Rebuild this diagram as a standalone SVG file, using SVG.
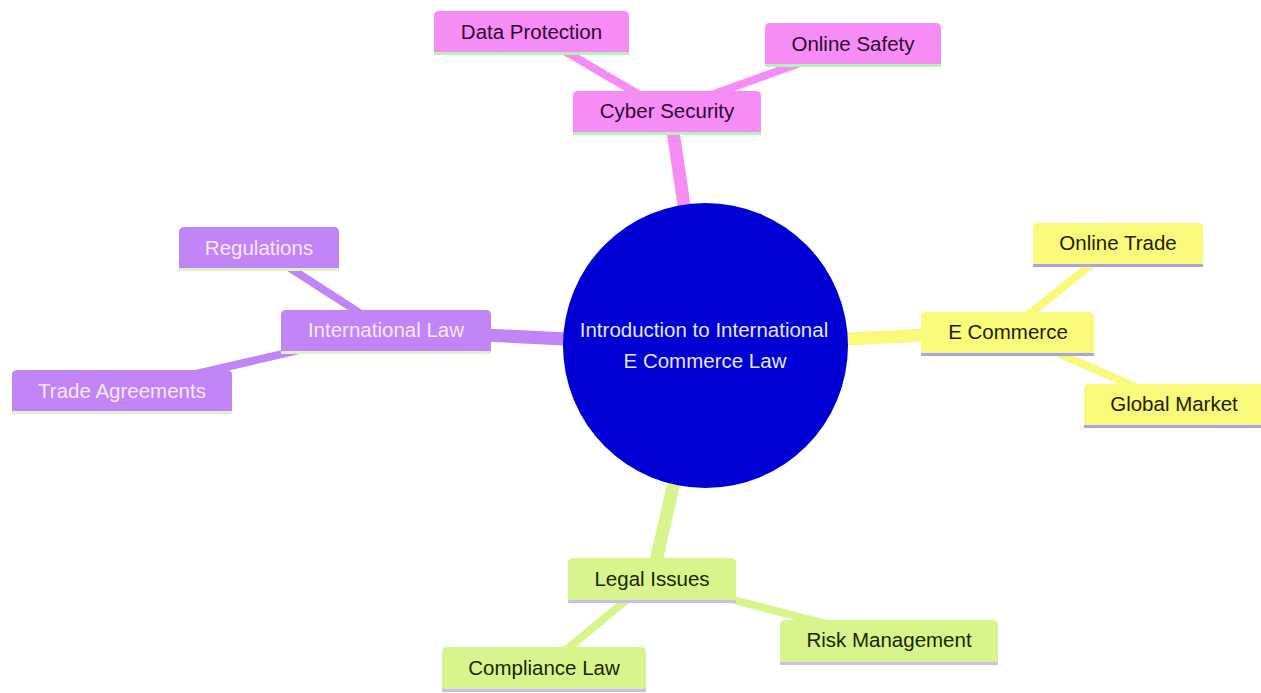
<svg xmlns="http://www.w3.org/2000/svg" width="1261" height="693" viewBox="0 0 1261 693">
<style>
  text { font-family: "Liberation Sans", Arial, sans-serif; font-size: 20.5px; text-anchor: middle; }
  .e1 { stroke-width: 13; stroke-linecap: butt; fill: none; }
  .e2 { stroke-width: 8; stroke-linecap: butt; fill: none; }
  .pink { fill: #f68df6; }
  .pink-e { stroke: #f68df6; }
  .pink-l { stroke: #b8f0b8; stroke-width: 3; }
  .pink-t { fill: #2e0a2e; }
  .purp { fill: #c185f7; }
  .purp-e { stroke: #c185f7; }
  .purp-l { stroke: #dcf3c8; stroke-width: 3; }
  .purp-t { fill: #f8e8ff; }
  .yel { fill: #f9f97b; }
  .yel-e { stroke: #f9f97b; }
  .yel-l { stroke: #a6a6e6; stroke-width: 3; }
  .yel-t { fill: #1e1e00; }
  .grn { fill: #d7f58c; }
  .grn-e { stroke: #d7f58c; }
  .grn-l { stroke: #cbbdee; stroke-width: 3; }
  .grn-t { fill: #1a2600; }
</style>
<rect x="0" y="0" width="1261" height="693" fill="#ffffff"/>
<g id="connectors">
  <line class="e1 pink-e" x1="705" y1="346" x2="670" y2="111"/>
  <line class="e2 pink-e" x1="667" y1="111" x2="532" y2="32"/>
  <line class="e2 pink-e" x1="667" y1="111" x2="853" y2="44"/>
  <line class="e1 purp-e" x1="705" y1="346" x2="386" y2="330"/>
  <line class="e2 purp-e" x1="386" y1="330" x2="259" y2="248"/>
  <line class="e2 purp-e" x1="386" y1="330" x2="122" y2="391"/>
  <line class="e1 yel-e" x1="705" y1="346" x2="1008" y2="331"/>
  <line class="e2 yel-e" x1="1008" y1="331" x2="1118" y2="243"/>
  <line class="e2 yel-e" x1="1008" y1="331" x2="1174" y2="404"/>
  <line class="e1 grn-e" x1="705" y1="346" x2="652" y2="579"/>
  <line class="e2 grn-e" x1="652" y1="579" x2="889" y2="640"/>
  <line class="e2 grn-e" x1="652" y1="579" x2="544" y2="668"/>
</g>
<g id="root">
  <circle cx="705.5" cy="345.5" r="142.5" fill="#0000d4"/>
  <text x="704" y="337" fill="#e6e6ff">Introduction to International</text>
  <text x="705" y="368" fill="#e6e6ff">E Commerce Law</text>
</g>
<g id="cyber-security">
  <path class="pink" d="M573,132 v-36 q0,-5 5,-5 h178 q5,0 5,5 v36 Z"/>
  <line class="pink-l" x1="573" y1="133.5" x2="761" y2="133.5"/>
  <text class="pink-t" x="667" y="118">Cyber Security</text>
</g>
<g id="data-protection">
  <path class="pink" d="M434,52 v-36 q0,-5 5,-5 h185 q5,0 5,5 v36 Z"/>
  <line class="pink-l" x1="434" y1="53.5" x2="629" y2="53.5"/>
  <text class="pink-t" x="531.5" y="39">Data Protection</text>
</g>
<g id="online-safety">
  <path class="pink" d="M765,64 v-36 q0,-5 5,-5 h166 q5,0 5,5 v36 Z"/>
  <line class="pink-l" x1="765" y1="65.5" x2="941" y2="65.5"/>
  <text class="pink-t" x="853" y="51">Online Safety</text>
</g>
<g id="international-law">
  <path class="purp" d="M281,351 v-36 q0,-5 5,-5 h200 q5,0 5,5 v36 Z"/>
  <line class="purp-l" x1="281" y1="352.5" x2="491" y2="352.5"/>
  <text class="purp-t" x="386" y="337">International Law</text>
</g>
<g id="regulations">
  <path class="purp" d="M179,268 v-36 q0,-5 5,-5 h150 q5,0 5,5 v36 Z"/>
  <line class="purp-l" x1="179" y1="269.5" x2="339" y2="269.5"/>
  <text class="purp-t" x="259" y="255">Regulations</text>
</g>
<g id="trade-agreements">
  <path class="purp" d="M12,411 v-36 q0,-5 5,-5 h210 q5,0 5,5 v36 Z"/>
  <line class="purp-l" x1="12" y1="412.5" x2="232" y2="412.5"/>
  <text class="purp-t" x="122" y="398">Trade Agreements</text>
</g>
<g id="e-commerce">
  <path class="yel" d="M921,353 v-36 q0,-5 5,-5 h163 q5,0 5,5 v36 Z"/>
  <line class="yel-l" x1="921" y1="354.5" x2="1094" y2="354.5"/>
  <text class="yel-t" x="1008" y="339">E Commerce</text>
</g>
<g id="online-trade">
  <path class="yel" d="M1033,264 v-36 q0,-5 5,-5 h160 q5,0 5,5 v36 Z"/>
  <line class="yel-l" x1="1033" y1="265.5" x2="1203" y2="265.5"/>
  <text class="yel-t" x="1118" y="250">Online Trade</text>
</g>
<g id="global-market">
  <path class="yel" d="M1084,425 v-36 q0,-5 5,-5 h170 q5,0 5,5 v36 Z"/>
  <line class="yel-l" x1="1084" y1="426.5" x2="1264" y2="426.5"/>
  <text class="yel-t" x="1174" y="411">Global Market</text>
</g>
<g id="legal-issues">
  <path class="grn" d="M568,600 v-37 q0,-5 5,-5 h158 q5,0 5,5 v37 Z"/>
  <line class="grn-l" x1="568" y1="601.5" x2="736" y2="601.5"/>
  <text class="grn-t" x="652" y="586">Legal Issues</text>
</g>
<g id="risk-management">
  <path class="grn" d="M780,662 v-37 q0,-5 5,-5 h208 q5,0 5,5 v37 Z"/>
  <line class="grn-l" x1="780" y1="663.5" x2="998" y2="663.5"/>
  <text class="grn-t" x="889" y="647">Risk Management</text>
</g>
<g id="compliance-law">
  <path class="grn" d="M442,689 v-37 q0,-5 5,-5 h194 q5,0 5,5 v37 Z"/>
  <line class="grn-l" x1="442" y1="690.5" x2="646" y2="690.5"/>
  <text class="grn-t" x="544" y="675">Compliance Law</text>
</g>
</svg>
